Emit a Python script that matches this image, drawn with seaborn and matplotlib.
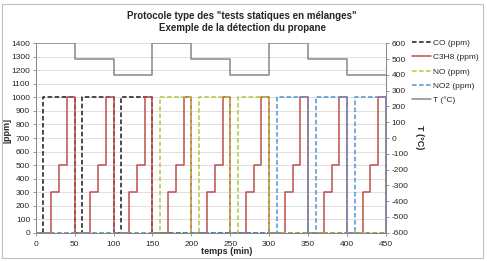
import matplotlib
matplotlib.use("Agg")
import matplotlib.pyplot as plt
import seaborn as sns
from matplotlib.patches import Rectangle

# step series (value holds until next time)
co_t = [0, 10, 50, 60, 100, 110, 150, 450]
co_ppm = [0, 1000, 0, 1000, 0, 1000, 0, 0]

c3h8_t = [0, 20, 30, 40, 50, 70, 80, 90, 100, 120, 130, 140, 150,
          170, 180, 190, 200, 220, 230, 240, 250, 270, 280, 290, 300,
          320, 330, 340, 350, 370, 380, 390, 400, 420, 430, 440, 450]
c3h8_ppm = [0, 300, 500, 1000, 0, 300, 500, 1000, 0, 300, 500, 1000, 0,
            300, 500, 1000, 0, 300, 500, 1000, 0, 300, 500, 1000, 0,
            300, 500, 1000, 0, 300, 500, 1000, 0, 300, 500, 1000, 0]

no_t = [0, 160, 200, 210, 250, 260, 300, 450]
no_ppm = [0, 1000, 0, 1000, 0, 1000, 0, 0]

no2_t = [0, 310, 350, 360, 400, 410, 450]
no2_ppm = [0, 1000, 0, 1000, 0, 1000, 0]

temp_t = [0, 50, 100, 150, 200, 250, 300, 350, 400, 450]
temp_c = [600, 500, 400, 600, 500, 400, 600, 500, 400, 400]

x_ticks = list(range(0, 451, 50))
ppm_ticks = list(range(0, 1401, 100))
temp_ticks = list(range(-600, 601, 100))

sns.set_theme(style="white")
plt.rcParams["font.family"] = ["Liberation Sans", "DejaVu Sans"]
plt.rcParams["axes.unicode_minus"] = False

fig = plt.figure(figsize=(4.87, 2.61), dpi=100)
ax = fig.add_axes([0.0733, 0.1084, 0.7193, 0.7257])
ax2 = ax.twinx()

dash = (0, (3, 1.6))
lw = 1.1
common = dict(drawstyle="steps-post", estimator=None, sort=False, legend=False)

sns.lineplot(x=co_t, y=co_ppm, ax=ax, color="#1a1a1a", linestyle=dash, lw=lw, label="CO (ppm)", **common)
sns.lineplot(x=c3h8_t, y=c3h8_ppm, ax=ax, color="#C0504D", lw=lw, label="C3H8 (ppm)", **common)
sns.lineplot(x=no_t, y=no_ppm, ax=ax, color="#B3C73C", linestyle=dash, lw=lw, label="NO (ppm)", **common)
sns.lineplot(x=no2_t, y=no2_ppm, ax=ax, color="#4F94D4", linestyle=dash, lw=lw, label="NO2 (ppm)", **common)
sns.lineplot(x=temp_t, y=temp_c, ax=ax2, color="#888888", lw=lw, label="T (°C)", **common)

handles = list(ax.get_lines()) + list(ax2.get_lines())

ax.set_xlim(0, 450)
ax.set_ylim(0, 1400)
ax2.set_ylim(-600, 600)
ax.set_xticks(x_ticks)
ax.set_yticks(ppm_ticks)
ax2.set_yticks(temp_ticks)

ax.yaxis.grid(True, color="#D9D9D9", lw=0.6)
ax.set_axisbelow(True)
ax.xaxis.grid(False)

for a in (ax, ax2):
    a.tick_params(labelsize=6, length=2, width=0.6, color="#868686", pad=2)
    for side in ("left", "right", "bottom"):
        a.spines[side].set_color("#868686")
        a.spines[side].set_linewidth(0.7)
    a.spines["top"].set_visible(False)
ax.tick_params(axis="x", pad=4, bottom=True)
ax.tick_params(axis="y", left=True)
ax2.tick_params(axis="y", right=True)

ax.set_xlabel("temps (min)", fontsize=6.5, fontweight="bold", labelpad=0)
ax.xaxis.set_label_coords(0.545, -0.075)
ax.set_ylabel("[ppm]", fontsize=6.5, fontweight="bold")
ax.yaxis.set_label_coords(-0.068, 0.54)
ax2.set_ylabel("T (°C)", fontsize=6.5, fontweight="bold", rotation=-90, va="center")
ax2.yaxis.set_label_coords(1.097, 0.505)

fig.text(0.497, 0.94, 'Protocole type des "tests statiques en mélanges"',
         ha="center", va="center", fontsize=7, fontweight="bold")
fig.text(0.497, 0.892, "Exemple de la détection du propane",
         ha="center", va="center", fontsize=7, fontweight="bold")

fig.legend(handles=handles, loc="upper left", bbox_to_anchor=(0.846, 0.85),
           frameon=False, fontsize=6, handlelength=2.3, handletextpad=0.25,
           labelspacing=0.78, borderpad=0, borderaxespad=0)

fig.patches.append(Rectangle((0.004, 0.012), 0.988, 0.974, transform=fig.transFigure,
                             fill=False, edgecolor="#C0C0C0", lw=0.8))

fig.savefig("out.png", dpi=100)
